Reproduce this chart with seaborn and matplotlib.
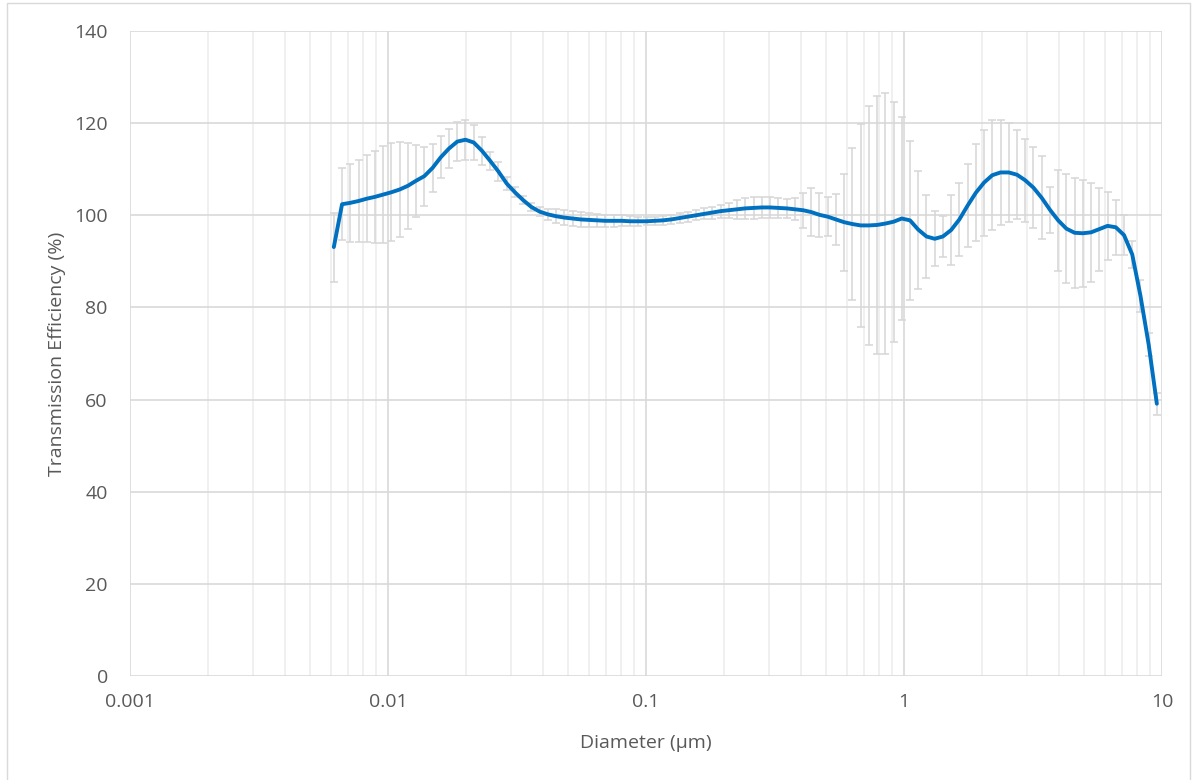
# Transmission efficiency vs particle diameter (Excel-style chart)
import numpy as np
import pandas as pd
import matplotlib
matplotlib.use("Agg")
import matplotlib.pyplot as plt
import matplotlib.ticker as mticker
from matplotlib.patches import Rectangle
import seaborn as sns

# --- data ---
diameter_nm = [
    6.166, 6.636, 7.142, 7.686, 8.272, 8.902, 9.581, 10.31, 11.10, 11.94,
    12.85, 13.83, 14.89, 16.02, 17.24, 18.56, 19.97, 21.49, 23.13, 24.90,
    26.79, 28.84, 31.03, 33.40, 35.95, 38.69, 41.64, 44.81, 48.23, 51.90,
    55.86, 60.12, 64.70, 69.63, 74.94, 80.65, 86.80, 93.41, 100.5, 108.2,
    116.4, 125.3, 134.9, 145.2, 156.2, 168.1, 180.9, 194.7, 209.6, 225.6,
    242.7, 261.3, 281.2, 302.6, 325.7, 350.5, 377.2, 406.0, 436.9, 470.2,
    506.0, 544.6, 586.1, 630.8, 678.9, 730.6, 786.3, 846.3, 910.8, 980.2,
    1055, 1135, 1222, 1315, 1415, 1523, 1639, 1764, 1899, 2043,
    2199, 2367, 2547, 2742, 2950, 3175, 3417, 3678, 3958, 4260,
    4585, 4934, 5310, 5715, 6151, 6620, 7124, 7667, 8252, 8881,
    9550,
]

efficiency = [
    93.1, 102.4, 102.7, 103.1, 103.6, 104.0, 104.5, 105.0, 105.6, 106.4,
    107.5, 108.5, 110.3, 112.6, 114.5, 116.0, 116.4, 115.8, 114.0, 111.8,
    109.5, 106.9, 105.0, 103.3, 101.8, 100.8, 100.2, 99.8, 99.5, 99.3,
    99.1, 99.0, 98.9, 98.8, 98.8, 98.8, 98.7, 98.7, 98.7, 98.8,
    98.9, 99.1, 99.4, 99.7, 100.0, 100.3, 100.6, 100.9, 101.1, 101.3,
    101.5, 101.6, 101.7, 101.7, 101.6, 101.5, 101.3, 101.1, 100.7, 100.1,
    99.7, 99.1, 98.5, 98.1, 97.8, 97.8, 97.9, 98.2, 98.6, 99.3,
    98.9, 96.9, 95.4, 94.9, 95.4, 96.8, 99.1, 102.1, 104.9, 107.1,
    108.7, 109.3, 109.3, 108.8, 107.6, 106.0, 103.8, 101.2, 98.9, 97.1,
    96.2, 96.1, 96.3, 97.0, 97.7, 97.4, 95.7, 91.5, 82.5, 71.9,
    59.1,
]

std_dev = [
    7.5, 7.8, 8.4, 8.9, 9.4, 10.0, 10.6, 10.6, 10.4, 9.3,
    7.8, 6.4, 5.2, 4.6, 4.3, 4.3, 4.3, 3.8, 3.1, 2.0,
    2.1, 1.4, 1.1, 0.9, 0.9, 1.0, 1.2, 1.5, 1.6, 1.6,
    1.6, 1.5, 1.4, 1.3, 1.3, 1.2, 1.1, 1.0, 0.9, 0.9,
    0.9, 1.0, 1.0, 1.1, 1.1, 1.2, 1.3, 1.4, 1.6, 2.0,
    2.2, 2.3, 2.2, 2.2, 2.1, 2.0, 2.4, 3.8, 5.2, 4.8,
    4.2, 5.5, 10.5, 16.5, 22.0, 26.0, 28.0, 28.3, 26.0, 22.0,
    17.3, 12.8, 9.0, 6.0, 4.4, 7.5, 8.0, 9.0, 10.5, 11.5,
    12.0, 11.4, 10.7, 9.7, 9.0, 8.8, 9.0, 5.0, 10.9, 11.8,
    12.0, 11.6, 10.7, 9.0, 7.4, 6.0, 4.3, 3.0, 3.5, 2.5,
    2.4,
]

x_ticks = [0.001, 0.01, 0.1, 1, 10]
x_tick_labels = ["0.001", "0.01", "0.1", "1", "10"]
y_ticks = [0, 20, 40, 60, 80, 100, 120, 140]

df = pd.DataFrame({
    "diameter": np.array(diameter_nm) / 1000.0,
    "efficiency": efficiency,
    "sd": std_dev,
})

# --- style ---
sns.set_theme(style="white")
plt.rcParams["font.family"] = ["Open Sans", "DejaVu Sans"]

text_grey = "#595959"
grid_grey = "#D9D9D9"

fig = plt.figure(figsize=(11.94, 7.8), dpi=100)
ax = fig.add_axes([130 / 1194, 1 - 676 / 780, 1032 / 1194, 645 / 780])

ax.errorbar(df["diameter"], df["efficiency"], yerr=df["sd"], fmt="none",
            ecolor="#D6D6D6", elinewidth=1.1, capsize=2.6, capthick=1.1, zorder=2)
sns.lineplot(data=df, x="diameter", y="efficiency", ax=ax, color="#0070C0",
             linewidth=2.8, zorder=3, sort=False)

ax.set_xscale("log")
ax.set_xlim(0.001, 10)
ax.set_ylim(0, 140)
ax.xaxis.set_major_locator(mticker.FixedLocator(x_ticks))
ax.xaxis.set_major_formatter(mticker.FixedFormatter(x_tick_labels))
ax.xaxis.set_minor_locator(mticker.LogLocator(base=10, subs=np.arange(2, 10)))
ax.xaxis.set_minor_formatter(mticker.NullFormatter())
ax.set_yticks(y_ticks)

ax.grid(which="major", color=grid_grey, linewidth=1.2, zorder=0)
ax.grid(which="minor", axis="x", color="#EEEEEE", linewidth=1.2, zorder=0)
ax.set_axisbelow(True)
for s in ax.spines.values():
    s.set_visible(False)

ax.tick_params(which="both", length=0)
ax.tick_params(axis="y", pad=16, labelsize=14, labelcolor=text_grey)
ax.tick_params(axis="x", pad=12, labelsize=14, labelcolor=text_grey)

ax.set_xlabel("Diameter (µm)", fontsize=14, color=text_grey, labelpad=17)
ax.set_ylabel("Transmission Efficiency (%)", fontsize=14, color=text_grey, labelpad=6)

# chart area border
fig.patches.append(Rectangle((7 / 1194, -0.01), 1183 / 1194, 1.0 - 3 / 780 + 0.01,
                             transform=fig.transFigure, fill=False,
                             edgecolor=grid_grey, linewidth=1.0))

fig.savefig("out.png", dpi=100, facecolor="white")
